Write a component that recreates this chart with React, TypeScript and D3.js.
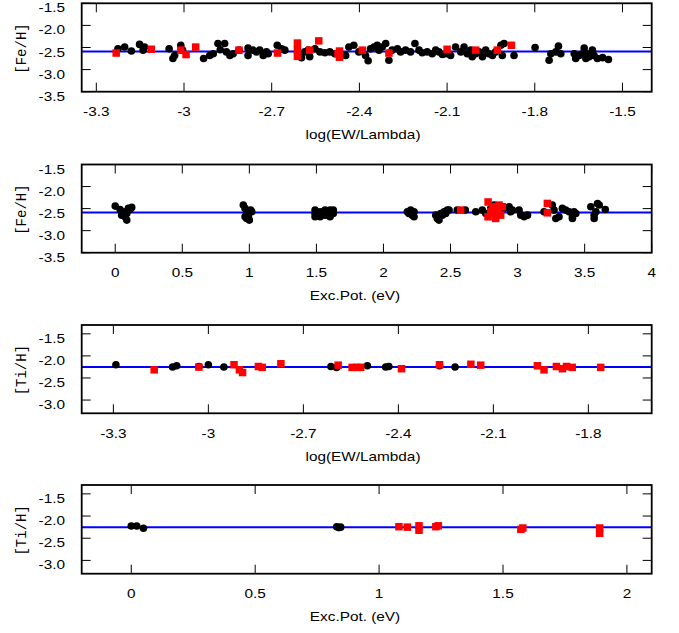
import React from "react";
import * as d3 from "d3";

type P = [number, number];

// Panel 1: [Fe/H] vs log(EW/Lambda)
const feEwCircles: P[] = [
  [-3.226, -2.53], [-3.203, -2.49], [-3.18, -2.58], [-3.152, -2.43], [-3.14, -2.56], [-3.135, -2.49],
  [-3.051, -2.53], [-3.038, -2.75], [-3.032, -2.68], [-3.011, -2.45], [-3.005, -2.56],
  [-2.933, -2.75], [-2.912, -2.68], [-2.9, -2.64],
  [-2.884, -2.41], [-2.876, -2.55], [-2.861, -2.41], [-2.855, -2.6], [-2.843, -2.68], [-2.832, -2.64],
  [-2.812, -2.56], [-2.781, -2.51], [-2.781, -2.68], [-2.764, -2.56], [-2.752, -2.6], [-2.741, -2.56],
  [-2.729, -2.68], [-2.718, -2.6], [-2.712, -2.64],
  [-2.681, -2.45], [-2.666, -2.53], [-2.655, -2.56],
  [-2.598, -2.73], [-2.587, -2.6], [-2.575, -2.56], [-2.57, -2.71], [-2.552, -2.53], [-2.535, -2.6],
  [-2.518, -2.62], [-2.501, -2.6], [-2.484, -2.64],
  [-2.447, -2.68], [-2.436, -2.49], [-2.419, -2.45], [-2.402, -2.6], [-2.379, -2.68], [-2.37, -2.8],
  [-2.362, -2.53], [-2.35, -2.49], [-2.339, -2.45], [-2.333, -2.56], [-2.322, -2.49], [-2.31, -2.41],
  [-2.299, -2.79], [-2.288, -2.56], [-2.27, -2.53], [-2.259, -2.6], [-2.242, -2.56], [-2.225, -2.6],
  [-2.21, -2.41], [-2.196, -2.56], [-2.185, -2.62], [-2.168, -2.6], [-2.151, -2.64], [-2.139, -2.56],
  [-2.128, -2.6], [-2.116, -2.66], [-2.105, -2.64], [-2.088, -2.68], [-2.071, -2.49], [-2.053, -2.6],
  [-2.042, -2.49], [-2.031, -2.64], [-2.019, -2.56], [-2.014, -2.71], [-2.002, -2.64], [-1.991, -2.6],
  [-1.979, -2.71], [-1.968, -2.56], [-1.957, -2.64], [-1.945, -2.68], [-1.934, -2.6], [-1.916, -2.45],
  [-1.911, -2.68], [-1.905, -2.41], [-1.871, -2.68], [-1.799, -2.5], [-1.751, -2.79], [-1.745, -2.64],
  [-1.728, -2.6], [-1.719, -2.47], [-1.711, -2.64], [-1.665, -2.64], [-1.66, -2.75], [-1.648, -2.68],
  [-1.637, -2.64], [-1.631, -2.51], [-1.625, -2.75], [-1.62, -2.64], [-1.614, -2.71], [-1.603, -2.56],
  [-1.597, -2.68], [-1.586, -2.75], [-1.568, -2.73], [-1.548, -2.77],
];
const feEwSquares: P[] = [
  [-3.232, -2.625], [-3.112, -2.54], [-3.011, -2.56], [-2.993, -2.66], [-2.96, -2.49], [-2.812, -2.56],
  [-2.68, -2.625], [-2.612, -2.4], [-2.612, -2.55], [-2.612, -2.7], [-2.57, -2.56], [-2.539, -2.35],
  [-2.473, -2.64], [-2.468, -2.58], [-2.468, -2.72], [-2.39, -2.56], [-2.299, -2.625], [-2.1, -2.54],
  [-2.002, -2.56], [-1.928, -2.56], [-1.88, -2.45],
];

// Panel 2: [Fe/H] vs Exc.Pot.
const feEpCircles: P[] = [
  [0.0, -2.443], [0.036, -2.519], [0.06, -2.572], [0.073, -2.686], [0.086, -2.761], [0.098, -2.496],
  [0.123, -2.473], [0.086, -2.61], [0.048, -2.648], [0.11, -2.52],
  [0.955, -2.42], [0.968, -2.496], [0.98, -2.61], [0.993, -2.686], [1.0, -2.761], [1.01, -2.534],
  [1.018, -2.572], [0.98, -2.723], [0.968, -2.686],
  [1.49, -2.534], [1.49, -2.61], [1.49, -2.686], [1.528, -2.572], [1.528, -2.686], [1.565, -2.534],
  [1.565, -2.648], [1.602, -2.534], [1.602, -2.686], [1.626, -2.61], [1.626, -2.534],
  [2.178, -2.572], [2.19, -2.61], [2.203, -2.534], [2.215, -2.648], [2.228, -2.572], [2.228, -2.686],
  [2.39, -2.648], [2.402, -2.723], [2.414, -2.686], [2.427, -2.61], [2.439, -2.648], [2.452, -2.572],
  [2.464, -2.61], [2.476, -2.534], [2.489, -2.534], [2.414, -2.761],
  [2.55, -2.534], [2.61, -2.534],
  [2.688, -2.572], [2.737, -2.534], [2.763, -2.61], [2.8, -2.496], [2.825, -2.42], [2.837, -2.458],
  [2.862, -2.572], [2.899, -2.496], [2.937, -2.458], [2.949, -2.572], [2.961, -2.534], [3.011, -2.534],
  [3.024, -2.648], [3.049, -2.686], [3.074, -2.648],
  [3.197, -2.572], [3.259, -2.42], [3.272, -2.534], [3.285, -2.723], [3.309, -2.686], [3.334, -2.496],
  [3.359, -2.534], [3.384, -2.572], [3.409, -2.686], [3.421, -2.572], [3.434, -2.61], [3.409, -2.723],
  [3.546, -2.458], [3.571, -2.648], [3.571, -2.723], [3.596, -2.383], [3.609, -2.42], [3.654, -2.519],
  [3.584, -2.572],
];
const feEpSquares: P[] = [
  [2.576, -2.534], [2.78, -2.35], [2.78, -2.686], [2.812, -2.458], [2.825, -2.61], [2.849, -2.496],
  [2.837, -2.723], [2.886, -2.458], [2.874, -2.648], [2.8, -2.572], [2.862, -2.42], [3.222, -2.383],
  [3.222, -2.595],
];

// Panel 3: [Ti/H] vs log(EW/Lambda)
const tiEwCircles: P[] = [
  [-3.292, -2.2], [-3.113, -2.253], [-3.1, -2.224], [-3.03, -2.24], [-3.0, -2.2], [-2.951, -2.253],
  [-2.613, -2.24], [-2.595, -2.26], [-2.498, -2.224], [-2.44, -2.253], [-2.43, -2.24], [-2.27, -2.224],
  [-2.221, -2.253],
];
const tiEwSquares: P[] = [
  [-3.171, -2.315], [-3.03, -2.253], [-2.919, -2.2], [-2.902, -2.315], [-2.892, -2.377], [-2.842, -2.24],
  [-2.83, -2.26], [-2.771, -2.178], [-2.59, -2.21], [-2.546, -2.26], [-2.53, -2.26], [-2.519, -2.26],
  [-2.39, -2.29], [-2.27, -2.2], [-2.171, -2.19], [-2.14, -2.21], [-1.961, -2.224], [-1.94, -2.315],
  [-1.901, -2.24], [-1.882, -2.29], [-1.869, -2.24], [-1.851, -2.26], [-1.761, -2.26],
];

// Panel 4: [Ti/H] vs Exc.Pot.
const tiEpCircles: P[] = [
  [0.0, -2.224], [0.022, -2.224], [0.049, -2.276], [0.829, -2.24], [0.837, -2.26], [0.845, -2.25],
];
const tiEpSquares: P[] = [
  [1.08, -2.24], [1.114, -2.25], [1.161, -2.22], [1.161, -2.32], [1.229, -2.24], [1.239, -2.22],
  [1.572, -2.3], [1.58, -2.27], [1.89, -2.27], [1.89, -2.39],
];

const feMean = -2.59;
const tiMean = -2.25;

const xTicksEwFe = [-3.3, -3, -2.7, -2.4, -2.1, -1.8, -1.5];
const xTicksEpFe = [0, 0.5, 1, 1.5, 2, 2.5, 3, 3.5, 4];
const xTicksEwTi = [-3.3, -3, -2.7, -2.4, -2.1, -1.8];
const xTicksEpTi = [0, 0.5, 1, 1.5, 2];
const yTicksFe = [-1.5, -2, -2.5, -3, -3.5];
const yTicksTi = [-1.5, -2, -2.5, -3];

const LEFT = 81.7;
const RIGHT = 651.7;
const TICK = 9;
const SX = 1.18;
const SANS = "'Liberation Sans', Arial, sans-serif";

interface PanelProps {
  top: number;
  bottom: number;
  xDomain: [number, number];
  yDomain: [number, number];
  xTicks: number[];
  yTicks: number[];
  circles: P[];
  squares: P[];
  mean: number;
  xTitle: string;
  xTitleX: number;
  yTitle: string;
}

function Panel(p: PanelProps) {
  const xs = d3.scaleLinear().domain(p.xDomain).range([LEFT, RIGHT]);
  const ys = d3.scaleLinear().domain(p.yDomain).range([p.bottom, p.top]);
  const midY = (p.top + p.bottom) / 2;
  return (
    <g>
      {/* mean line */}
      <line x1={LEFT} x2={RIGHT} y1={ys(p.mean)} y2={ys(p.mean)} stroke="#0000ff" strokeWidth={2} />
      {/* ticks */}
      {p.xTicks.map((t) => (
        <g key={"x" + t}>
          <line x1={xs(t)} x2={xs(t)} y1={p.bottom} y2={p.bottom - TICK} stroke="#000" strokeWidth={1} />
          <line x1={xs(t)} x2={xs(t)} y1={p.top} y2={p.top + TICK} stroke="#000" strokeWidth={1} />
          <text
            transform={`translate(${xs(t)},${p.bottom + 20}) scale(${SX},1)`}
            textAnchor="middle"
            dominantBaseline="central"
            fontFamily={SANS}
            fontSize={13}
            fill="#000"
          >
            {String(t)}
          </text>
        </g>
      ))}
      {p.yTicks.map((t) => (
        <g key={"y" + t}>
          <line x1={LEFT} x2={LEFT + TICK} y1={ys(t)} y2={ys(t)} stroke="#000" strokeWidth={1} />
          <line x1={RIGHT} x2={RIGHT - TICK} y1={ys(t)} y2={ys(t)} stroke="#000" strokeWidth={1} />
          <text
            transform={`translate(65,${ys(t) + 4.5}) scale(${SX},1)`}
            textAnchor="end"
            dominantBaseline="central"
            fontFamily={SANS}
            fontSize={13}
            fill="#000"
          >
            {t.toFixed(1)}
          </text>
        </g>
      ))}
      {/* markers */}
      {p.circles.map((d, i) => (
        <circle key={"c" + i} cx={xs(d[0])} cy={ys(d[1])} r={3.8} fill="#000" />
      ))}
      {p.squares.map((d, i) => (
        <rect key={"s" + i} x={xs(d[0]) - 3.75} y={ys(d[1]) - 3.75} width={7.5} height={7.5} fill="#ff0000" />
      ))}
      {/* frame */}
      <rect x={LEFT} y={p.top} width={RIGHT - LEFT} height={p.bottom - p.top} fill="none" stroke="#000" strokeWidth={1.8} />
      {/* titles */}
      <text
        transform={`translate(${p.xTitleX},${p.bottom + 43}) scale(${SX},1)`}
        textAnchor="middle"
        dominantBaseline="central"
        fontFamily={SANS}
        fontSize={13}
        fill="#000"
      >
        {p.xTitle}
      </text>
      <text
        transform={`translate(22,${midY + 1}) rotate(-90)`}
        textAnchor="middle"
        dominantBaseline="central"
        fontFamily="'Liberation Mono', 'Courier New', monospace"
        fontSize={14}
        fill="#000"
      >
        {p.yTitle}
      </text>
    </g>
  );
}

export default function App() {
  return (
    <svg
      width={679}
      height={633}
      style={{ position: "absolute", left: 0, top: 0, background: "#fff" }}
    >
      <rect x={0} y={0} width={679} height={633} fill="#fff" />
      <Panel
        top={3.3}
        bottom={91.7}
        xDomain={[-3.35, -1.4]}
        yDomain={[-3.5, -1.5]}
        xTicks={xTicksEwFe}
        yTicks={yTicksFe}
        circles={feEwCircles}
        squares={feEwSquares}
        mean={feMean}
        xTitle="log(EW/Lambda)"
        xTitleX={363}
        yTitle="[Fe/H]"
      />
      <Panel
        top={164.5}
        bottom={252.7}
        xDomain={[-0.25, 4]}
        yDomain={[-3.5, -1.5]}
        xTicks={xTicksEpFe}
        yTicks={yTicksFe}
        circles={feEpCircles}
        squares={feEpSquares}
        mean={feMean}
        xTitle="Exc.Pot. (eV)"
        xTitleX={355}
        yTitle="[Fe/H]"
      />
      <Panel
        top={325}
        bottom={413.3}
        xDomain={[-3.4, -1.6]}
        yDomain={[-3.3, -1.3]}
        xTicks={xTicksEwTi}
        yTicks={yTicksTi}
        circles={tiEwCircles}
        squares={tiEwSquares}
        mean={tiMean}
        xTitle="log(EW/Lambda)"
        xTitleX={363}
        yTitle="[Ti/H]"
      />
      <Panel
        top={485}
        bottom={573.7}
        xDomain={[-0.2, 2.1]}
        yDomain={[-3.3, -1.3]}
        xTicks={xTicksEpTi}
        yTicks={yTicksTi}
        circles={tiEpCircles}
        squares={tiEpSquares}
        mean={tiMean}
        xTitle="Exc.Pot. (eV)"
        xTitleX={355}
        yTitle="[Ti/H]"
      />
    </svg>
  );
}
